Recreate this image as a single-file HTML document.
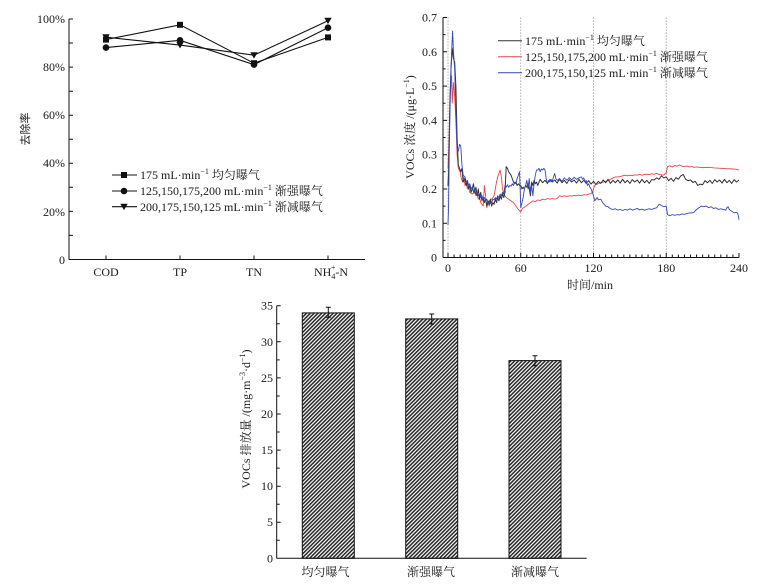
<!DOCTYPE html>
<html><head><meta charset="utf-8"><style>
html,body{margin:0;padding:0;background:#fff;}
svg{display:block;}
text{font-family:"Liberation Serif","Noto Serif CJK SC","Noto Sans CJK SC",serif;fill:#1a1a1a;font-size:12px;}
</style></head><body>
<svg width="760" height="588" viewBox="0 0 760 588" xmlns="http://www.w3.org/2000/svg">
<defs>
<pattern id="hatch" patternUnits="userSpaceOnUse" width="2.7" height="2.7" patternTransform="rotate(45)">
<rect width="2.7" height="2.7" fill="#fff"/>
<line x1="0.8" y1="0" x2="0.8" y2="2.7" stroke="#222" stroke-width="1.5"/>
</pattern>
</defs>
<rect width="760" height="588" fill="#fff"/>

<!-- ===== Top-left chart ===== -->
<g stroke="#111" stroke-width="1" fill="none">
<line x1="69" y1="19" x2="69" y2="259.5"/>
<line x1="69" y1="259.5" x2="365" y2="259.5"/>
<path d="M69 19h4M69 43h4M69 67.1h4M69 91.2h4M69 115.2h4M69 139.2h4M69 163.3h4M69 187.3h4M69 211.4h4M69 235.4h4"/>
<path d="M106 259.5v-4M180 259.5v-4M254 259.5v-4M328 259.5v-4"/>
</g>
<g text-anchor="end">
<text x="65" y="23">100%</text>
<text x="65" y="71">80%</text>
<text x="65" y="119">60%</text>
<text x="65" y="167">40%</text>
<text x="65" y="216">20%</text>
<text x="65" y="264">0</text>
</g>
<text transform="translate(29,129) rotate(-90)" text-anchor="middle" style="font-family:'Noto Sans CJK SC',sans-serif;font-size:11px;">去除率</text>
<g text-anchor="middle">
<text x="106" y="276">COD</text>
<text x="180" y="276">TP</text>
<text x="254" y="276">TN</text>
</g>
<text x="314" y="276">NH<tspan font-size="8" dy="3">4</tspan><tspan font-size="8" dx="-4.5" dy="-9">+</tspan><tspan dy="6">-N</tspan></text>

<g stroke="#111" stroke-width="1.1" fill="none">
<polyline points="106,39.6 180,24.8 254,63.2 328,37.4"/>
<polyline points="106,47.6 180,40.3 254,64.6 328,27.7"/>
<polyline points="106,37.2 180,45.1 254,55.2 328,20.7"/>
</g>
<g fill="#111">
<rect x="103" y="36.6" width="6" height="6"/>
<rect x="177" y="21.8" width="6" height="6"/>
<rect x="251" y="60.2" width="6" height="6"/>
<rect x="325" y="34.4" width="6" height="6"/>
<circle cx="106" cy="47.6" r="3.3"/>
<circle cx="180" cy="40.3" r="3.3"/>
<circle cx="254" cy="64.6" r="3.3"/>
<circle cx="328" cy="27.7" r="3.3"/>
<path d="M102.3 34.2h7.4l-3.7 6.4z"/>
<path d="M176.3 42.1h7.4l-3.7 6.4z"/>
<path d="M250.3 52.2h7.4l-3.7 6.4z"/>
<path d="M324.3 17.7h7.4l-3.7 6.4z"/>
</g>
<g stroke="#111" stroke-width="1.1">
<line x1="112" y1="175" x2="137" y2="175"/>
<line x1="112" y1="191" x2="137" y2="191"/>
<line x1="112" y1="206.7" x2="137" y2="206.7"/>
</g>
<g fill="#111">
<rect x="121" y="172" width="6" height="6"/>
<circle cx="124" cy="191" r="3.3"/>
<path d="M120.3 203.7h7.4l-3.7 6.4z"/>
</g>
<text x="140" y="179">175 mL·min<tspan font-size="8" dy="-5">−1</tspan><tspan dy="5"> 均匀曝气</tspan></text>
<text x="140" y="195">125,150,175,200 mL·min<tspan font-size="8" dy="-5">−1</tspan><tspan dy="5"> 渐强曝气</tspan></text>
<text x="140" y="211">200,175,150,125 mL·min<tspan font-size="8" dy="-5">−1</tspan><tspan dy="5"> 渐减曝气</tspan></text>

<!-- ===== Top-right time series ===== -->
<g stroke="#888" stroke-width="0.8" stroke-dasharray="1.2,1.8" fill="none">
<line x1="448" y1="17.5" x2="448" y2="257.5"/>
<line x1="520.75" y1="17.5" x2="520.75" y2="257.5"/>
<line x1="593.5" y1="17.5" x2="593.5" y2="257.5"/>
<line x1="666.25" y1="17.5" x2="666.25" y2="257.5"/>
</g>
<g stroke="#111" stroke-width="1" fill="none">
<line x1="443" y1="17.5" x2="443" y2="257.5"/>
<line x1="443" y1="257.5" x2="739" y2="257.5"/>
<path d="M443 17.5h4M443 51.8h4M443 86.1h4M443 120.4h4M443 154.7h4M443 189h4M443 223.3h4M443 34.6h2.5M443 68.9h2.5M443 103.2h2.5M443 137.5h2.5M443 171.8h2.5M443 206.1h2.5M443 240.4h2.5"/>
<path d="M448 257.5v-4.5M454.06 257.5v-3M460.13 257.5v-3M466.19 257.5v-3M472.25 257.5v-3M478.31 257.5v-3M484.38 257.5v-3M490.44 257.5v-3M496.5 257.5v-3M502.56 257.5v-3M508.63 257.5v-3M514.69 257.5v-3M520.75 257.5v-4.5M526.81 257.5v-3M532.88 257.5v-3M538.94 257.5v-3M545 257.5v-3M551.06 257.5v-3M557.13 257.5v-3M563.19 257.5v-3M569.25 257.5v-3M575.31 257.5v-3M581.38 257.5v-3M587.44 257.5v-3M593.5 257.5v-4.5M599.56 257.5v-3M605.63 257.5v-3M611.69 257.5v-3M617.75 257.5v-3M623.81 257.5v-3M629.88 257.5v-3M635.94 257.5v-3M642 257.5v-3M648.06 257.5v-3M654.13 257.5v-3M660.19 257.5v-3M666.25 257.5v-4.5M672.31 257.5v-3M678.38 257.5v-3M684.44 257.5v-3M690.5 257.5v-3M696.56 257.5v-3M702.63 257.5v-3M708.69 257.5v-3M714.75 257.5v-3M720.81 257.5v-3M726.88 257.5v-3M732.94 257.5v-3M739 257.5v-4.5"/>
</g>
<g text-anchor="end">
<text x="437" y="21.5">0.7</text>
<text x="437" y="55.8">0.6</text>
<text x="437" y="90.1">0.5</text>
<text x="437" y="124.4">0.4</text>
<text x="437" y="158.7">0.3</text>
<text x="437" y="193">0.2</text>
<text x="437" y="227.3">0.1</text>
<text x="437" y="261.5">0</text>
</g>
<g text-anchor="middle">
<text x="448" y="272">0</text>
<text x="520.75" y="272">60</text>
<text x="593.5" y="272">120</text>
<text x="666.25" y="272">180</text>
<text x="739" y="272">240</text>
<text x="590" y="289">时间/min</text>
</g>
<text transform="translate(414,127) rotate(-90)" text-anchor="middle">VOCs 浓度 /(μg·L<tspan font-size="8" dy="-5">−1</tspan><tspan dy="5">)</tspan></text>

<g transform="translate(448,257.5) scale(1.2125,-343)" fill="none" stroke-linejoin="round">
<polyline vector-effect="non-scaling-stroke" stroke="#e8464a" stroke-width="0.9" points="0,0.26 1,0.35 2,0.48 3,0.53 3.5,0.45 4.5,0.51 5.5,0.47 6.5,0.4 7.5,0.3 8.5,0.26 10,0.25 11,0.23 12,0.22 13,0.235 14,0.21 15,0.22 16,0.2 17,0.21 18,0.19 20,0.185 22,0.19 23,0.18 24,0.185 25,0.17 26,0.175 27,0.16 28,0.155 29,0.15 30,0.21 31,0.18 32,0.145 33,0.16 34,0.15 35,0.165 36,0.17 37,0.175 38,0.18 39,0.2 40,0.22 41,0.235 42,0.245 43,0.255 44,0.235 45,0.2 46,0.185 47,0.18 48,0.175 50,0.17 52,0.165 54,0.16 56,0.15 58,0.14 60,0.133 61,0.14 62,0.145 64,0.148 66,0.155 68,0.16 70,0.165 72,0.163 74,0.168 76,0.166 78,0.17 80,0.168 82,0.172 84,0.17 86,0.172 88,0.17 90,0.172 92,0.18 94,0.178 96,0.18 98,0.178 100,0.18 102,0.179 104,0.181 106,0.18 108,0.182 110,0.18 112,0.183 114,0.182 116,0.185 118,0.186 119,0.19 120,0.2 121,0.21 122,0.213 124,0.215 126,0.218 128,0.22 130,0.222 132,0.224 134,0.228 136,0.232 138,0.235 140,0.235 142,0.236 144,0.238 146,0.24 148,0.238 150,0.24 152,0.239 154,0.241 156,0.24 158,0.242 160,0.24 162,0.242 164,0.243 166,0.242 168,0.244 170,0.243 172,0.245 174,0.242 176,0.241 178,0.24 179,0.245 180,0.246 181,0.265 183,0.267 185,0.264 187,0.268 189,0.266 191,0.27 193,0.266 195,0.265 197,0.267 199,0.264 201,0.265 203,0.263 205,0.264 210,0.262 215,0.263 220,0.261 225,0.26 230,0.259 235,0.258 238,0.257 240,0.255"/>
<polyline vector-effect="non-scaling-stroke" stroke="#333" stroke-width="1" points="0,0.21 0.5,0.25 1.5,0.45 2.5,0.55 3.5,0.61 4.5,0.58 5.5,0.57 6.5,0.5 7.5,0.35 8.5,0.27 9.5,0.26 10.5,0.25 11.5,0.26 12.5,0.22 14,0.23 15,0.21 16,0.22 17,0.2 18,0.21 19,0.19 20,0.2 21,0.215 22,0.19 23,0.205 24,0.18 25,0.2 26,0.17 27,0.19 28,0.165 29,0.175 30,0.16 31,0.17 32,0.15 33,0.165 34,0.155 35,0.17 36,0.15 37,0.16 38,0.155 39,0.17 40,0.16 41,0.175 42,0.165 43,0.18 44,0.17 45,0.185 46,0.175 47,0.19 48,0.265 49,0.26 50,0.25 51,0.245 52,0.24 53,0.23 54,0.22 55,0.215 56,0.22 57,0.21 58,0.215 59,0.21 60,0.21 61,0.2 62,0.205 63,0.2 64,0.21 65,0.205 66,0.215 67,0.2 68,0.18 69,0.22 70,0.21 71,0.225 72,0.215 73,0.22 74,0.21 76,0.228 78,0.218 80,0.225 82,0.216 84,0.227 86,0.22 88,0.226 90,0.217 92,0.228 94,0.218 96,0.225 98,0.216 100,0.227 102,0.22 104,0.226 106,0.217 108,0.228 110,0.218 112,0.225 114,0.216 116,0.224 118,0.214 120,0.222 122,0.213 124,0.222 126,0.216 128,0.226 130,0.218 132,0.228 134,0.216 136,0.225 138,0.218 140,0.226 142,0.217 144,0.228 146,0.218 148,0.225 150,0.216 152,0.227 154,0.22 156,0.226 158,0.217 160,0.228 162,0.218 164,0.225 166,0.216 168,0.227 170,0.226 172,0.232 174,0.228 176,0.238 178,0.232 180,0.235 182,0.224 184,0.231 186,0.222 188,0.233 190,0.228 192,0.238 194,0.242 196,0.228 198,0.224 200,0.226 202,0.219 204,0.222 206,0.21 208,0.214 210,0.212 212,0.224 214,0.218 216,0.225 218,0.216 220,0.227 222,0.22 224,0.226 226,0.217 228,0.228 230,0.218 232,0.225 234,0.216 236,0.227 238,0.22 240,0.226"/>
<polyline vector-effect="non-scaling-stroke" stroke="#3447b8" stroke-width="0.9" points="0,0.095 0.5,0.15 1,0.3 1.5,0.4 2,0.5 3,0.6 3.8,0.66 4.5,0.6 5.5,0.55 6.5,0.42 7.5,0.32 8.5,0.31 9.5,0.33 10.5,0.325 11.5,0.27 12.5,0.24 14,0.235 15,0.22 16,0.225 17,0.21 18,0.215 19,0.2 20,0.205 21,0.19 22,0.2 23,0.185 24,0.19 25,0.18 26,0.185 27,0.175 28,0.18 29,0.17 30,0.175 31,0.165 32,0.17 33,0.16 34,0.165 35,0.158 36,0.16 37,0.17 38,0.168 39,0.175 40,0.17 41,0.18 42,0.175 43,0.185 44,0.18 45,0.19 46,0.185 47,0.21 48,0.205 49,0.212 50,0.205 51,0.21 52,0.208 53,0.215 54,0.21 55,0.22 56,0.215 57,0.23 58,0.24 59,0.25 59.5,0.2 60,0.145 61,0.16 62,0.175 63,0.2 64,0.21 65,0.225 66,0.2 67,0.23 68,0.19 69,0.21 70,0.18 71,0.215 72,0.24 73,0.255 74,0.255 75,0.26 76,0.25 77,0.258 78,0.255 79,0.26 80,0.255 81,0.23 82,0.215 83,0.225 84,0.22 85,0.228 86,0.222 87,0.235 88,0.245 89,0.23 90,0.225 92,0.23 94,0.222 96,0.232 98,0.225 100,0.233 102,0.226 104,0.234 106,0.228 108,0.232 110,0.235 111,0.228 112,0.232 113,0.22 114,0.225 115,0.21 116,0.215 117,0.205 118,0.2 119,0.19 120,0.18 121,0.165 122,0.17 123,0.175 124,0.168 126,0.17 128,0.158 130,0.15 132,0.148 134,0.142 136,0.14 138,0.142 140,0.138 142,0.14 144,0.137 146,0.14 148,0.138 150,0.142 152,0.138 154,0.14 156,0.143 158,0.139 160,0.141 162,0.138 164,0.14 166,0.142 168,0.14 170,0.143 172,0.145 174,0.155 176,0.152 178,0.148 180,0.15 181,0.125 183,0.122 185,0.125 187,0.123 189,0.125 191,0.124 193,0.127 195,0.126 197,0.128 199,0.13 201,0.13 203,0.132 205,0.14 207,0.145 209,0.15 211,0.148 213,0.15 215,0.145 217,0.148 219,0.143 221,0.145 223,0.14 225,0.142 227,0.14 229,0.138 230,0.145 231,0.148 232,0.14 234,0.135 236,0.13 238,0.132 239,0.128 240,0.11"/>
</g>
<line x1="498" y1="40.7" x2="522" y2="40.7" stroke="#333" stroke-width="1"/>
<line x1="498" y1="56.7" x2="522" y2="56.7" stroke="#e8464a" stroke-width="1"/>
<line x1="498" y1="72.7" x2="522" y2="72.7" stroke="#3447b8" stroke-width="1"/>
<text x="525" y="45">175 mL·min<tspan font-size="8" dy="-5">−1</tspan><tspan dy="5"> 均匀曝气</tspan></text>
<text x="525" y="61">125,150,175,200 mL·min<tspan font-size="8" dy="-5">−1</tspan><tspan dy="5"> 渐强曝气</tspan></text>
<text x="525" y="77">200,175,150,125 mL·min<tspan font-size="8" dy="-5">−1</tspan><tspan dy="5"> 渐减曝气</tspan></text>

<!-- ===== Bar chart ===== -->
<g stroke="#111" stroke-width="1">
<rect x="302.3" y="312.9" width="52" height="245.4" fill="url(#hatch)"/>
<rect x="405.7" y="318.9" width="52" height="239.4" fill="url(#hatch)"/>
<rect x="509" y="360.6" width="52" height="197.7" fill="url(#hatch)"/>
</g>
<g stroke="#111" stroke-width="1" fill="none">
<line x1="276.7" y1="305.7" x2="276.7" y2="558.3"/>
<line x1="276.7" y1="558.3" x2="586.7" y2="558.3"/>
<path d="M276.7 305.7h4M276.7 341.8h4M276.7 377.9h4M276.7 414h4M276.7 450.1h4M276.7 486.2h4M276.7 522.2h4M276.7 323.8h3M276.7 359.9h3M276.7 396h3M276.7 432h3M276.7 468.1h3M276.7 504.2h3M276.7 540.3h3"/>
<path d="M328.3 307.3v10M325.8 307.3h5M325.8 317.3h5"/>
<path d="M431.7 314v10M429.2 314h5M429.2 324h5"/>
<path d="M535 355.7v10M532.5 355.7h5M532.5 365.7h5"/>
</g>
<g text-anchor="end">
<text x="273" y="309.7">35</text>
<text x="273" y="345.8">30</text>
<text x="273" y="381.9">25</text>
<text x="273" y="418">20</text>
<text x="273" y="454.1">15</text>
<text x="273" y="490.2">10</text>
<text x="273" y="526.2">5</text>
<text x="273" y="562.3">0</text>
</g>
<text transform="translate(250,419) rotate(-90)" text-anchor="middle">VOCs 排放量 /(mg·m<tspan font-size="8" dy="-5">−3</tspan><tspan dy="5">·d</tspan><tspan font-size="8" dy="-5">−1</tspan><tspan dy="5">)</tspan></text>
<g text-anchor="middle" style="font-size:12.5px">
<text x="325.5" y="576">均匀曝气</text>
<text x="431" y="576">渐强曝气</text>
<text x="535" y="576">渐减曝气</text>
</g>
</svg>
</body></html>
